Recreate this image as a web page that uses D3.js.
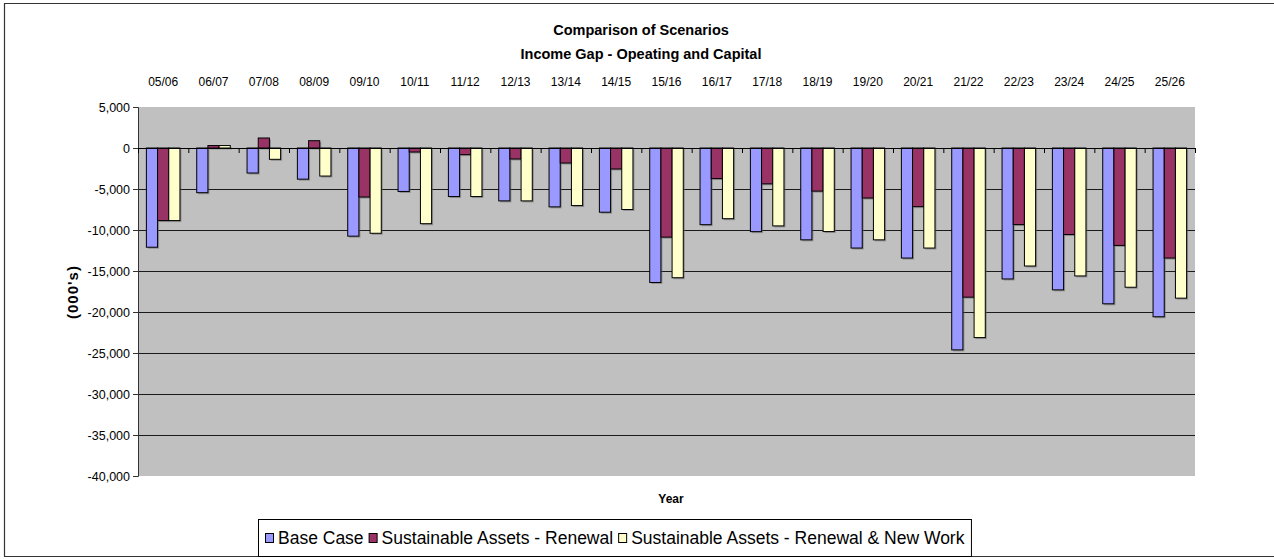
<!DOCTYPE html>
<html>
<head>
<meta charset="utf-8">
<script src="https://cdn.jsdelivr.net/npm/d3@7"></script>
<style>
  html, body { margin: 0; padding: 0; background: #fff; }
  svg { display: block; font-family: "Liberation Sans", Arial, sans-serif; }
</style>
</head>
<body>
<svg id="chart" width="1274" height="559"></svg>
<script>
// Financial years on the category axis
const years = ["05/06","06/07","07/08","08/09","09/10","10/11","11/12","12/13","13/14","14/15",
               "15/16","16/17","17/18","18/19","19/20","20/21","21/22","22/23","23/24","24/25","25/26"];

// Income gap per scenario, in thousands
const baseCase   = [-12100, -5450, -3050, -3800, -10750, -5300, -5920, -6450, -7180, -7830,
                    -16400, -9350, -10200, -11200, -12200, -13420, -24620, -15970, -17300, -19000, -20580];
const renewal    = [-8850, 300, 1220, 890, -5980, -490, -810, -1340, -1830, -2560,
                    -10870, -3730, -4370, -5260, -6100, -7150, -18190, -9340, -10550, -11880, -13420];
const renewalNew = [-8850, 300, -1380, -3420, -10400, -9230, -5920, -6450, -7020, -7500,
                    -15820, -8620, -9500, -10190, -11200, -12200, -23120, -14390, -15600, -16980, -18310];

const seriesNames  = ["Base Case", "Sustainable Assets - Renewal", "Sustainable Assets - Renewal & New Work"];
const seriesColors = ["#9999FF", "#993366", "#FFFFCC"];
const yTicks = [5000, 0, -5000, -10000, -15000, -20000, -25000, -30000, -35000, -40000];

const titleLines = ["Comparison of Scenarios", "Income Gap - Opeating and Capital"];

const series = [baseCase, renewal, renewalNew];

const svg = d3.select("#chart");

// outer chart frame
svg.append("path")
  .attr("d", "M1280,3.5 H4.5 V556.5 H1280")
  .attr("fill", "none").attr("stroke", "#333").attr("stroke-width", 1.2);

const plot = { left: 138, right: 1195, top: 107, bottom: 476 };

const y = d3.scaleLinear().domain([-40000, 5000]).range([plot.bottom, plot.top]);
const x = d3.scaleBand().domain(years).range([plot.left, plot.right]).padding(0);
const xEdge = d3.scaleLinear().domain([0, years.length]).range([plot.left, plot.right]);

const bw = x.bandwidth() / 4.5;
const groupOffset = (x.bandwidth() - 3 * bw) / 2;
const xs = d3.scaleBand().domain(d3.range(3)).range([groupOffset, groupOffset + 3 * bw]).padding(0);

// plot background
svg.append("rect")
  .attr("x", plot.left).attr("y", plot.top)
  .attr("width", plot.right - plot.left).attr("height", plot.bottom - plot.top)
  .attr("fill", "#C0C0C0");

// horizontal gridlines
svg.append("g").selectAll("line")
  .data(yTicks.filter(v => v < 0 && v > -40000))
  .join("line")
  .attr("x1", plot.left).attr("x2", plot.right)
  .attr("y1", d => Math.round(y(d)) + 0.5).attr("y2", d => Math.round(y(d)) + 0.5)
  .attr("stroke", "#1a1a1a").attr("stroke-width", 1);

// bars
const rows = [];
years.forEach((yr, i) => series.forEach((s, k) => rows.push({ yr, k, v: s[i] })));

const barG = svg.append("g");
barG.selectAll("rect.shadow")
  .data(rows)
  .join("rect")
  .attr("class", "shadow")
  .attr("x", d => x(d.yr) + xs(d.k) + 1.5)
  .attr("y", d => Math.min(y(0), y(d.v)) + 1.5)
  .attr("width", xs.bandwidth())
  .attr("height", d => Math.abs(y(d.v) - y(0)))
  .attr("fill", "#666").attr("opacity", 0.55);

barG.selectAll("rect.bar")
  .data(rows)
  .join("rect")
  .attr("class", "bar")
  .attr("x", d => x(d.yr) + xs(d.k))
  .attr("y", d => Math.min(y(0), y(d.v)))
  .attr("width", xs.bandwidth())
  .attr("height", d => Math.abs(y(d.v) - y(0)))
  .attr("fill", d => seriesColors[d.k])
  .attr("stroke", "#000").attr("stroke-width", 1);

// value axis
const fmt = d => d3.format(",")(d).replace("\u2212", "-");
const yAxis = svg.append("g")
  .attr("transform", `translate(${plot.left},0)`)
  .call(d3.axisLeft(y).tickValues(yTicks).tickFormat(fmt).tickSize(5).tickPadding(3));
yAxis.select(".domain").attr("stroke", "#333");
yAxis.selectAll(".tick line").attr("stroke", "#333");
yAxis.selectAll("text").attr("font-size", 12.5).attr("fill", "#000")
  .attr("font-family", "Liberation Sans, Arial, sans-serif");

// category axis along zero, ticks between groups
const xAxis = svg.append("g")
  .attr("transform", `translate(0,${y(0)})`)
  .call(d3.axisBottom(xEdge).tickValues(d3.range(0, years.length + 1)).tickFormat("").tickSize(5));
xAxis.select(".domain").attr("stroke", "#000");
xAxis.selectAll(".tick line").attr("stroke", "#000");

// category labels above the plot
const xLabels = svg.append("g")
  .attr("transform", "translate(0,85.5)")
  .call(d3.axisTop(x).tickSize(0).tickPadding(0));
xLabels.select(".domain").remove();
xLabels.selectAll("text").attr("font-size", 12).attr("fill", "#000")
  .attr("font-family", "Liberation Sans, Arial, sans-serif");

// titles
svg.append("g").selectAll("text")
  .data(titleLines)
  .join("text")
  .attr("x", 641).attr("y", (d, i) => 35 + i * 24)
  .attr("text-anchor", "middle")
  .attr("font-size", 14.5).attr("font-weight", "bold")
  .text(d => d);

svg.append("text")
  .attr("transform", "translate(78,292) rotate(-90)")
  .attr("text-anchor", "middle")
  .attr("font-size", 15).attr("font-weight", "bold").attr("letter-spacing", 1)
  .text("(000's)");

svg.append("text")
  .attr("x", 671).attr("y", 503)
  .attr("text-anchor", "middle")
  .attr("font-size", 12).attr("font-weight", "bold")
  .text("Year");

// legend: items laid out one after another inside a framed box
const legend = svg.append("g");
const legendBox = legend.append("rect")
  .attr("x", 258.5).attr("y", 519.5).attr("height", 37)
  .attr("fill", "#fff").attr("stroke", "#000").attr("stroke-width", 1);

let cursor = 265;
seriesNames.forEach((name, i) => {
  const g = legend.append("g").attr("transform", `translate(${cursor},538)`);
  g.append("rect")
    .attr("x", 0.5).attr("y", -4.5).attr("width", 8).attr("height", 9)
    .attr("fill", seriesColors[i]).attr("stroke", "#000").attr("stroke-width", 1);
  const t = g.append("text")
    .attr("x", 13).attr("y", 6)
    .attr("font-size", 17.5)
    .text(name);
  cursor += 13 + t.node().getComputedTextLength() + 5;
});
legendBox.attr("width", cursor - 5 + 7 - 258.5);
</script>
</body>
</html>
